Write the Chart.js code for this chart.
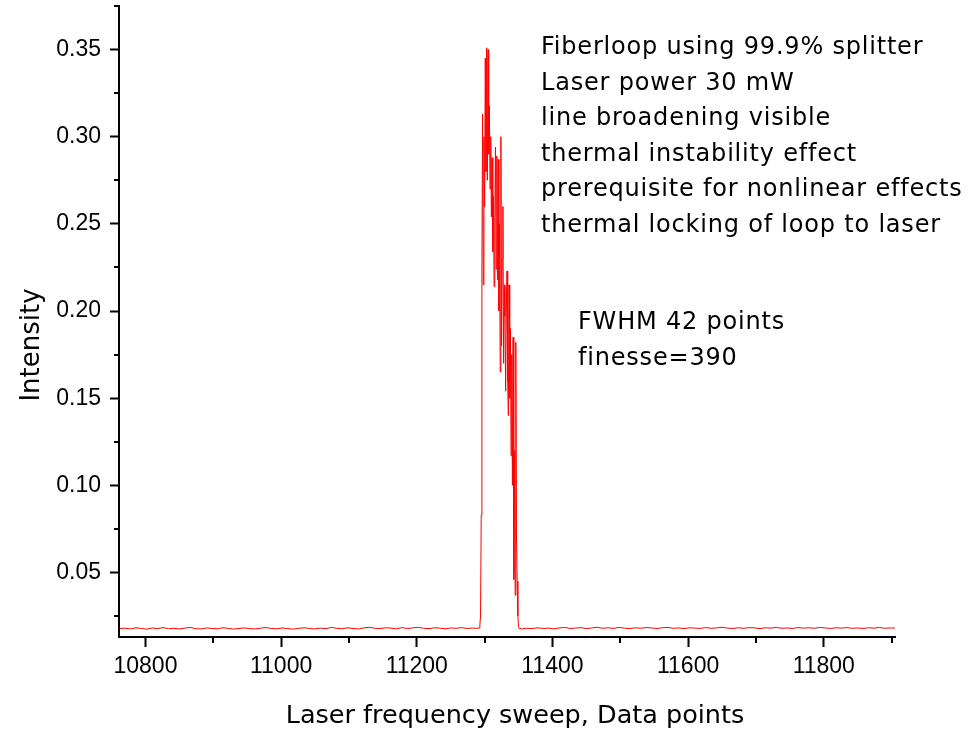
<!DOCTYPE html>
<html>
<head>
<meta charset="utf-8">
<script src="https://cdn.jsdelivr.net/npm/chart.js@4/dist/chart.umd.min.js"></script>
<style>
  body { margin: 0; background: #fff; }
  #wrap { width: 973px; height: 731px; }
</style>
</head>
<body>
<div id="wrap"><canvas id="plot" width="973" height="731"></canvas></div>
<script>
// baseline left of the resonance, one value every 8 data points
const baseLeftStart = 10762;
const baseStep = 8;
const baseLeft = [
  0.0178,0.0181,0.0176,0.0183,0.0179,0.0175,0.0182,0.0178,0.0184,0.0177,
  0.0180,0.0176,0.0181,0.0185,0.0178,0.0176,0.0182,0.0179,0.0177,0.0183,
  0.0180,0.0175,0.0179,0.0182,0.0178,0.0176,0.0181,0.0184,0.0179,0.0177,
  0.0182,0.0178,0.0175,0.0180,0.0183,0.0179,0.0176,0.0181,0.0178,0.0185,
  0.0180,0.0177,0.0183,0.0179,0.0176,0.0182,0.0186,0.0180,0.0178,0.0183,
  0.0181,0.0177,0.0184,0.0179,0.0182,0.0186,0.0180,0.0178,0.0183,0.0181,
  0.0177,0.0182,0.0180,0.0184,0.0179,0.0181
];

// resonance, every data point from 11288
const peakStart = 11288;
const peakVals = [
  0.0180,0.0182,0.0179,0.0183,0.0181,0.0200,0.0250,0.083,0.224,0.313,
  0.215,0.300,0.260,0.345,0.280,0.351,0.275,0.350,0.290,0.318,
  0.270,0.300,0.254,0.288,0.234,0.266,0.214,0.250,0.294,0.224,
  0.289,0.218,0.287,0.200,0.250,0.165,0.300,0.180,0.230,0.260,
  0.170,0.215,0.197,0.154,0.200,0.223,0.160,0.140,0.215,0.150,
  0.190,0.117,0.175,0.100,0.185,0.046,0.120,0.037,0.182,0.072,
  0.045,0.025,0.0190,0.0178,0.0181
];

// baseline right of the resonance
const baseRightStart = 11354;
const baseRight = [
  0.0176,0.0180,0.0178,0.0183,0.0179,0.0181,0.0177,0.0182,0.0185,0.0179,
  0.0181,0.0184,0.0178,0.0182,0.0186,0.0180,0.0183,0.0179,0.0185,0.0181,
  0.0178,0.0183,0.0180,0.0184,0.0182,0.0179,0.0183,0.0185,0.0180,0.0182,
  0.0178,0.0183,0.0181,0.0179,0.0184,0.0180,0.0182,0.0186,0.0181,0.0179,
  0.0183,0.0180,0.0184,0.0182,0.0178,0.0183,0.0181,0.0185,0.0180,0.0182,
  0.0179,0.0184,0.0181,0.0183,0.0180,0.0185,0.0182,0.0179,0.0183,0.0181,
  0.0184,0.0180,0.0182,0.0179,0.0183,0.0181,0.0185,0.0180,0.0182,0.0181
];

const xTicks = [10800, 11000, 11200, 11400, 11600, 11800];
const xMinor = [10900, 11100, 11300, 11500, 11700, 11900];
const yTicks = [0.05, 0.10, 0.15, 0.20, 0.25, 0.30, 0.35];
const yMinor = [0.025, 0.075, 0.125, 0.175, 0.225, 0.275, 0.325, 0.375];

const xTitle = 'Laser frequency sweep, Data points';
const yTitle = 'Intensity';
const notes = [
  'Fiberloop using 99.9% splitter',
  'Laser power 30 mW',
  'line broadening visible',
  'thermal instability effect',
  'prerequisite for nonlinear effects',
  'thermal locking of loop to laser'
];
const notes2 = ['FWHM 42 points', 'finesse=390'];

const points = [];
baseLeft.forEach((v, i) => points.push({ x: baseLeftStart + i * baseStep, y: v }));
peakVals.forEach((v, i) => points.push({ x: peakStart + i, y: v }));
baseRight.forEach((v, i) => points.push({ x: baseRightStart + i * baseStep, y: v }));

// minor ticks, axis titles and the text block
const extras = {
  id: 'extras',
  afterDraw(chart) {
    const ctx = chart.ctx;
    const xs = chart.scales.x, ys = chart.scales.y;
    const area = chart.chartArea;
    ctx.save();
    ctx.strokeStyle = '#000';
    ctx.lineWidth = 2;
    ctx.beginPath();
    yMinor.forEach(v => {
      const py = Math.round(ys.getPixelForValue(v));
      ctx.moveTo(area.left - 5, py);
      ctx.lineTo(area.left, py);
    });
    xMinor.forEach(v => {
      const px = Math.round(xs.getPixelForValue(v));
      ctx.moveTo(px, area.bottom);
      ctx.lineTo(px, area.bottom + 6);
    });
    ctx.stroke();

    ctx.fillStyle = '#000';
    ctx.textBaseline = 'alphabetic';

    // axis titles (the originals are not centred on the plot box)
    ctx.font = '25.5px "DejaVu Sans"';
    ctx.textAlign = 'center';
    ctx.fillText(xTitle, 515, 723);
    ctx.save();
    ctx.translate(39, 345);
    ctx.rotate(-Math.PI / 2);
    ctx.font = '26px "DejaVu Sans"';
    ctx.fillText(yTitle, 0, 0);
    ctx.restore();

    ctx.textAlign = 'left';
    ctx.font = '24px "DejaVu Sans"';
    ctx.letterSpacing = '0.8px';
    notes.forEach((t, i) => ctx.fillText(t, 541, 54 + i * 35.5));
    notes2.forEach((t, i) => ctx.fillText(t, 578, 329 + i * 36));
    ctx.restore();
  }
};

const ctx = document.getElementById('plot').getContext('2d');
new Chart(ctx, {
  type: 'line',
  data: {
    datasets: [{
      data: points,
      borderColor: '#ff0000',
      borderWidth: 1,
      pointRadius: 0,
      tension: 0,
      fill: false
    }]
  },
  options: {
    responsive: false,
    animation: false,
    layout: { padding: { left: 0, right: 78, top: 6, bottom: 0 } },
    plugins: { legend: { display: false }, tooltip: { enabled: false } },
    scales: {
      x: {
        type: 'linear',
        min: 10761,
        max: 11905,
        afterFit: s => { s.height = 94; s.paddingLeft = 0; s.paddingRight = 0; },
        afterBuildTicks: s => { s.ticks = xTicks.map(v => ({ value: v })); },
        border: { display: true, color: '#000', width: 2 },
        grid: { drawOnChartArea: false, color: '#000', tickLength: 10, tickWidth: 2 },
        ticks: {
          color: '#000',
          autoSkip: false,
          maxRotation: 0,
          padding: 6,
          font: { family: '"Liberation Sans", Arial', size: 23 },
          callback: v => String(v)
        }
      },
      y: {
        min: 0.013,
        max: 0.375,
        afterFit: s => { s.width = 119; s.paddingTop = 0; s.paddingBottom = 0; },
        afterBuildTicks: s => { s.ticks = yTicks.map(v => ({ value: v })); },
        border: { display: true, color: '#000', width: 2 },
        grid: { drawOnChartArea: false, color: '#000', tickLength: 9, tickWidth: 2 },
        ticks: {
          color: '#000',
          padding: 9,
          font: { family: '"Liberation Sans", Arial', size: 23 },
          callback: v => v.toFixed(2)
        }
      }
    }
  },
  plugins: [extras]
});
</script>
</body>
</html>
